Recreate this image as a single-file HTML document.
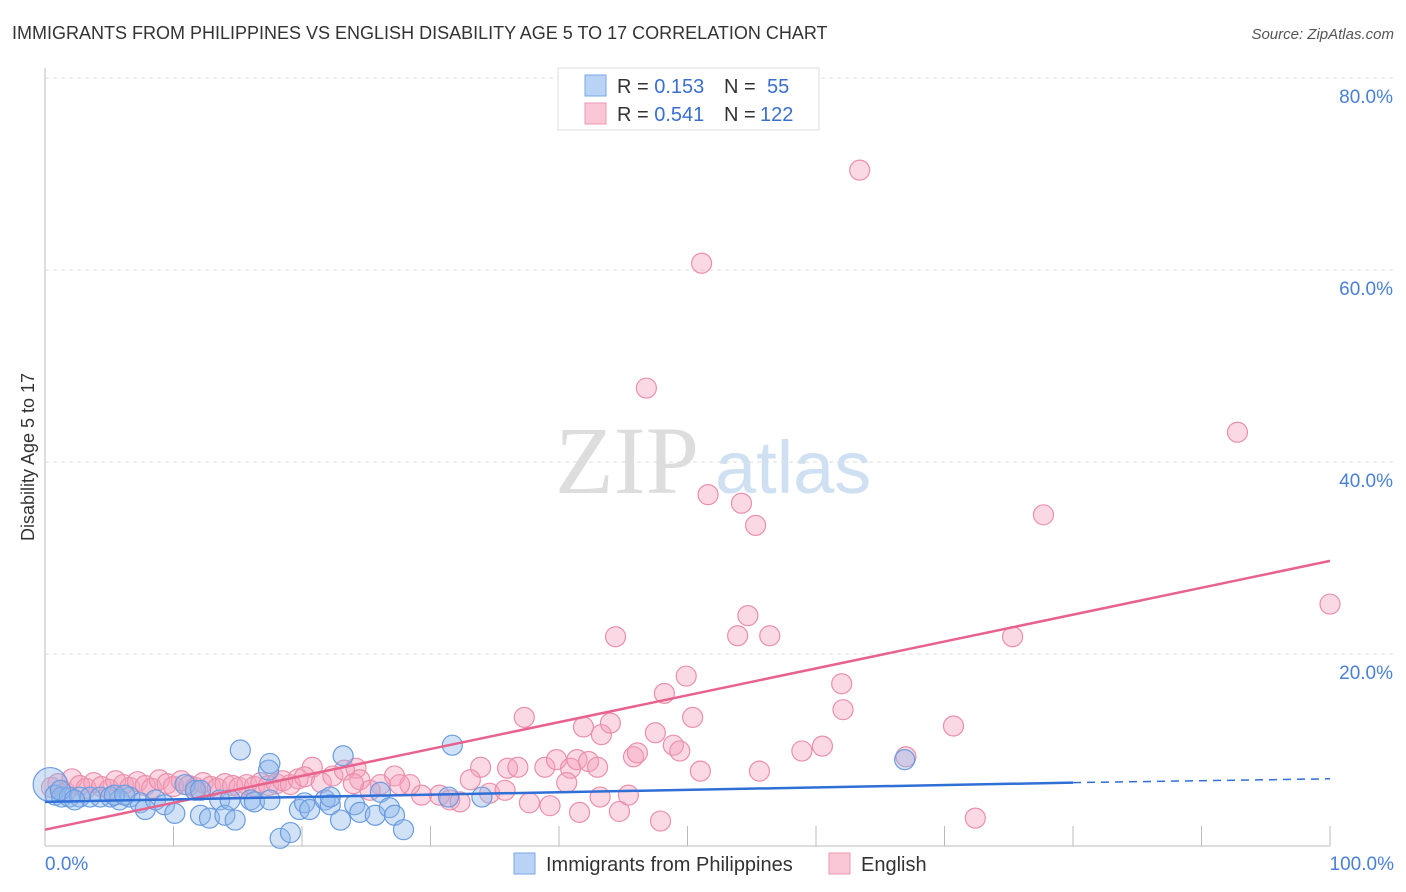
<!DOCTYPE html>
<html><head><meta charset="utf-8"><style>
body{margin:0;background:#fff;font-family:"Liberation Sans",sans-serif}
svg{display:block}
</style></head><body>
<svg id="c" width="1406" height="892" xmlns="http://www.w3.org/2000/svg">
<text x="12" y="39" font-size="18" fill="#333">IMMIGRANTS FROM PHILIPPINES VS ENGLISH DISABILITY AGE 5 TO 17 CORRELATION CHART</text>
<text x="1394" y="39" font-size="15" fill="#555" font-style="italic" text-anchor="end">Source: ZipAtlas.com</text>
<text x="555" y="493" font-size="96" fill="#ddd" font-family="Liberation Serif,serif">ZIP</text>
<text x="715" y="493" font-size="74" fill="#cfe0f3">atlas</text>
<g id="grid"></g><g id="axes"></g>
<g id="pts"></g><g id="trend"></g>
<text transform="translate(34,457) rotate(-90)" font-size="18" fill="#333" text-anchor="middle">Disability Age 5 to 17</text>
<text x="45" y="870" font-size="19" fill="#4a7fd8">0.0%</text>
<text x="1394" y="870" font-size="19" fill="#4a7fd8" text-anchor="end">100.0%</text>
<g>
<rect x="558" y="68" width="261" height="62" fill="#fff" stroke="#ddd"/>
<rect x="585" y="75" width="21" height="21" fill="#b9d3f5" stroke="#7aa6e6"/>
<rect x="585" y="103" width="21" height="21" fill="#f9c7d6" stroke="#ec9ab4"/>
<text x="617" y="93" font-size="20" fill="#333">R = <tspan fill="#3a6fd0">0.153</tspan><tspan x="724">N = </tspan><tspan x="767" fill="#3a6fd0">55</tspan></text>
<text x="617" y="121" font-size="20" fill="#333">R = <tspan fill="#3a6fd0">0.541</tspan><tspan x="724">N = </tspan><tspan x="760" fill="#3a6fd0">122</tspan></text>
</g>
<g>
<rect x="514" y="853" width="21" height="21" fill="#b9d3f5" stroke="#7aa6e6"/>
<text x="546" y="871" font-size="20" fill="#333">Immigrants from Philippines</text>
<rect x="829" y="853" width="21" height="21" fill="#f9c7d6" stroke="#ec9ab4"/>
<text x="861" y="871" font-size="20" fill="#333">English</text>
</g>
</svg>
<script>
const yTicks=[20,40,60,80];
const yTickLabels=["20.0%","40.0%","60.0%","80.0%"];
const xTicks=[10,20,30,40,50,60,70,80,90,100];
const blueX=[0.4,0.8,1.3,1.9,2.7,3.5,4.3,5.1,5.8,6.6,7.4,7.8,8.6,9.3,10.1,10.9,11.7,12.1,12.8,13.6,14.0,14.8,15.2,16.0,16.3,17.4,17.5,18.3,19.1,19.8,20.2,20.6,21.8,22.2,23.0,23.2,24.1,24.5,25.7,26.1,26.8,27.2,27.9,31.4,31.7,34.0,66.9,1.2,2.3,5.4,6.2,12.1,22.2,14.4,17.5];
const blueY=[6.4,5.3,5.1,5.1,5.1,5.1,5.1,5.1,4.8,5.1,4.5,3.8,4.8,4.3,3.4,6.4,5.8,3.2,2.9,4.8,3.2,2.7,10.0,4.8,4.6,7.9,8.6,0.8,1.4,3.8,4.5,3.8,4.8,4.3,2.7,9.4,4.3,3.5,3.2,5.6,4.0,3.2,1.7,5.1,10.5,5.1,9.0,5.8,4.8,5.3,5.3,5.8,5.1,4.8,4.8];
const pinkX=[63.4,51.1,46.8,51.6,54.2,55.3,92.8,77.7,100,54.7,44.4,53.9,56.4,75.3,49.9,48.2,62.0,62.1,37.3,50.4,41.9,43.3,44.0,47.5,48.9,49.4,45.8,46.1,70.7,60.5,58.9,67.0,51.0,55.6,33.9,36.0,36.8,38.9,39.8,40.9,41.4,42.3,43.0,40.6,43.2,41.6,45.4,44.7,47.9,72.4,20.8,24.2,27.2,24.5,30.7,31.5,32.3,34.6,37.7,39.3,35.8,33.1,29.3,28.4,27.6,26.1,25.3,
0.5,1.0,1.6,2.1,2.7,3.2,3.8,4.4,5.0,5.5,6.1,6.6,7.2,7.8,8.3,8.9,9.5,10.0,10.6,11.2,11.7,12.3,12.9,13.4,14.0,14.6,15.1,15.7,16.3,16.8,17.4,18.0,18.5,19.1,19.7,20.2,21.5,22.4,23.3,24.0];
const pinkY=[70.4,60.7,47.7,36.6,35.7,33.4,43.1,34.5,25.2,24.0,21.8,21.9,21.9,21.8,17.7,15.9,16.9,14.2,13.4,13.4,12.4,11.6,12.8,11.8,10.5,9.9,9.3,9.7,12.5,10.4,9.9,9.3,7.8,7.8,8.2,8.1,8.2,8.2,9.0,8.1,9.0,8.8,8.2,6.6,5.1,3.5,5.3,3.6,2.6,2.9,8.2,8.1,7.3,6.9,5.3,4.8,4.6,5.5,4.5,4.2,5.8,6.9,5.3,6.4,6.4,6.4,5.8,
6.1,6.5,5.6,7.0,6.3,6.0,6.6,6.2,5.9,6.8,6.4,6.1,6.7,6.3,6.0,6.9,6.5,6.2,6.8,6.3,6.1,6.6,6.2,6.0,6.5,6.3,6.1,6.4,6.2,6.6,6.3,6.5,6.8,6.4,7.0,7.2,6.6,7.3,7.9,6.5];
const blueTrend=[[0,4.6],[80,6.6],[100,7.0]];
const pinkTrend=[[0,1.7],[100,29.7]];
const NS="http://www.w3.org/2000/svg";
const X0=45,X1=1330,Y0=846,PX=9.6;
const sx=v=>X0+v*(X1-X0)/100, sy=v=>Y0-v*PX;
function mk(t,a,p){const e=document.createElementNS(NS,t);for(const k in a)e.setAttribute(k,a[k]);p.appendChild(e);return e;}
const grid=document.getElementById('grid'),axes=document.getElementById('axes'),pts=document.getElementById('pts'),tr=document.getElementById('trend');
yTicks.forEach((v,i)=>{
 const l=mk('line',{x1:X0,x2:1395,y1:sy(v),y2:sy(v),stroke:'#ddd','stroke-dasharray':'4,4'},grid);
 
 
 const t=mk('text',{x:1393,y:sy(v)+25,'font-size':19,fill:'#4a7fd8','text-anchor':'end'},grid);
 t.textContent=yTickLabels[i];
 
 
});
const ya=mk('line',{x1:X0,x2:X0,y1:68,y2:Y0,stroke:'#bbb'},axes);


const xa=mk('line',{x1:X0,x2:X1,y1:Y0,y2:Y0,stroke:'#bbb'},axes);


xTicks.forEach(v=>{
 const t=mk('line',{x1:sx(v),x2:sx(v),y1:Y0-20,y2:Y0,stroke:'#bbb'},axes);
 
 
});
pinkX.forEach((x,i)=>{
 const c=mk('circle',{cx:sx(x),cy:sy(pinkY[i]),r:10,fill:'rgba(244,160,188,0.4)',stroke:'#ea8fab','stroke-width':1.2},pts);
 
 
});
blueX.forEach((x,i)=>{
 const c=mk('circle',{cx:sx(x),cy:sy(blueY[i]),r:i==0?17:10,fill:'rgba(140,182,236,0.4)',stroke:'#6a9be0','stroke-width':1.2},pts);
 
 
});
const pt=mk('line',{x1:sx(pinkTrend[0][0]),y1:sy(pinkTrend[0][1]),x2:sx(pinkTrend[1][0]),y2:sy(pinkTrend[1][1]),stroke:'#e8628e','stroke-width':2.5},tr);


const bt=mk('line',{x1:sx(blueTrend[0][0]),y1:sy(blueTrend[0][1]),x2:sx(blueTrend[1][0]),y2:sy(blueTrend[1][1]),stroke:'#2f6fd6','stroke-width':2.5},tr);


const bd=mk('line',{x1:sx(blueTrend[1][0]),y1:sy(blueTrend[1][1]),x2:sx(blueTrend[2][0]),y2:sy(blueTrend[2][1]),stroke:'#2f6fd6','stroke-width':1.5,'stroke-dasharray':'8,6'},tr);


</script>
</body></html>
